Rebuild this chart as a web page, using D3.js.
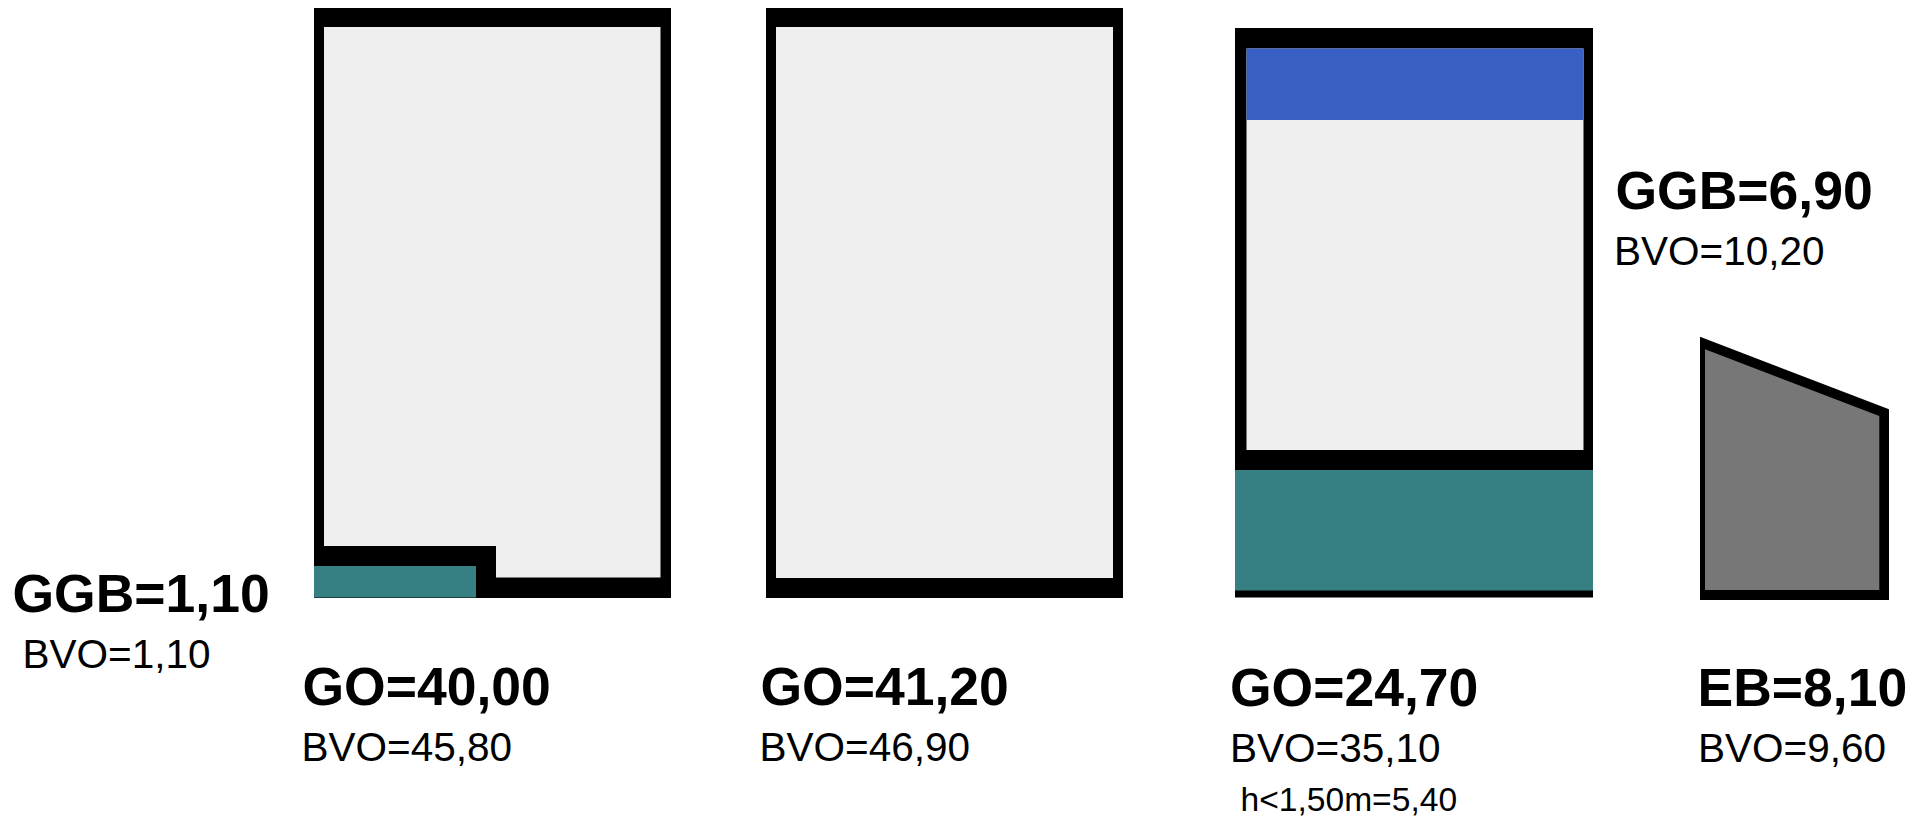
<!DOCTYPE html>
<html lang="en">
<head>
    <meta charset="UTF-8">
    <title>Floor areas per section</title>
    <script src="https://d3js.org/d3.v7.min.js"></script>
    <style>
      html, body { margin: 0; padding: 0; background: #fff; overflow: hidden; }
      svg { display: block; }
      text { font-family: "Liberation Sans", Arial, sans-serif; fill: #000; }
      .main { font-size: 53.5px; font-weight: bold; }
      .sub { font-size: 40.5px; }
      .note { font-size: 33.6px; }
    </style>
</head>
<body>
    <div id="chart"></div>

    <script>
        // Values
        const categories = ["GGB", "GO", "GO", "GO", "EB", "GGB"];
        const areas = [1.10, 40.00, 41.20, 24.70, 8.10, 6.90];
        const bvoAreas = [1.10, 45.80, 46.90, 35.10, 9.60, 10.20];
        const lowHeightLabel = "h<1,50m";
        const lowHeightArea = 5.40;

        const width = 1930, height = 818;

        // Plan units: 1 unit is 10px, heights measured up from the ground line
        const x = d3.scaleLinear().domain([0, 193]).range([0, width]);
        const y = d3.scaleLinear().domain([0, 59.8]).range([598, 0]);

        const black = "#000", light = "#efefef", teal = "#368083", blue = "#3860c4", grey = "#777777";

        const rect = (x0, y0, x1, y1) => [[x0, y0], [x1, y0], [x1, y1], [x0, y1]];

        // Each shape is painted in order, walls first
        const shapes = [
            // section 1
            { fill: black, pts: rect(31.4, 0, 67.1, 59) },
            { fill: light, pts: [[32.4, 57.1], [66.05, 57.1], [66.05, 2.05], [49.6, 2.05], [49.6, 5.2], [32.4, 5.2]] },
            { fill: teal, pts: rect(31.4, 0.05, 47.6, 3.2) },
            // section 2
            { fill: black, pts: rect(76.6, 0, 112.3, 59) },
            { fill: light, pts: rect(77.6, 2, 111.3, 57.1) },
            // section 3
            { fill: black, pts: rect(123.5, 0.05, 159.3, 57) },
            { fill: light, pts: rect(124.65, 14.8, 158.35, 54.95) },
            { fill: blue, pts: rect(124.65, 47.8, 158.35, 54.95) },
            { fill: teal, pts: rect(123.5, 0.75, 159.3, 12.8) },
            // section 4
            { fill: black, pts: [[170, -0.2], [170, 26.13], [188.9, 18.87], [188.9, -0.2]] },
            { fill: grey, pts: [[170.5, 0.8], [170.5, 24.87], [187.93, 18.2], [187.93, 0.8]] }
        ];

        // Where each label pair starts: [x, main baseline, sub baseline] in plan units
        const labelPos = [
            [1.25, -1.4, -7],
            [30.25, -10.7, -16.3],
            [76.05, -10.7, -16.3],
            [123.0, -10.8, -16.4],
            [169.75, -10.8, -16.4],
            [161.55, 38.9, 33.3]
        ];
        const labelSubX = [2.25, 30.15, 75.95, 123.0, 169.8, 161.4];

        const svg = d3.select("#chart")
            .append("svg")
            .attr("width", width)
            .attr("height", height);

        const line = d3.line()
            .x(d => x(d[0]))
            .y(d => y(d[1]))
            .curve(d3.curveLinearClosed);

        svg.append("g")
            .selectAll("path")
            .data(shapes)
            .enter().append("path")
            .attr("d", d => line(d.pts))
            .attr("fill", d => d.fill);

        // Dutch decimal comma
        const fmt = v => d3.format(".2f")(v).replace(".", ",");

        const labels = svg.append("g");

        categories.forEach((cat, i) => {
            labels.append("text")
                .attr("class", "main")
                .attr("x", x(labelPos[i][0]))
                .attr("y", y(labelPos[i][1]))
                .text(`${cat}=${fmt(areas[i])}`);

            labels.append("text")
                .attr("class", "sub")
                .attr("x", x(labelSubX[i]))
                .attr("y", y(labelPos[i][2]))
                .text(`BVO=${fmt(bvoAreas[i])}`);
        });

        labels.append("text")
            .attr("class", "note")
            .attr("x", x(124.05))
            .attr("y", y(-21.3))
            .text(`${lowHeightLabel}=${fmt(lowHeightArea)}`);
    </script>
</body>
</html>
